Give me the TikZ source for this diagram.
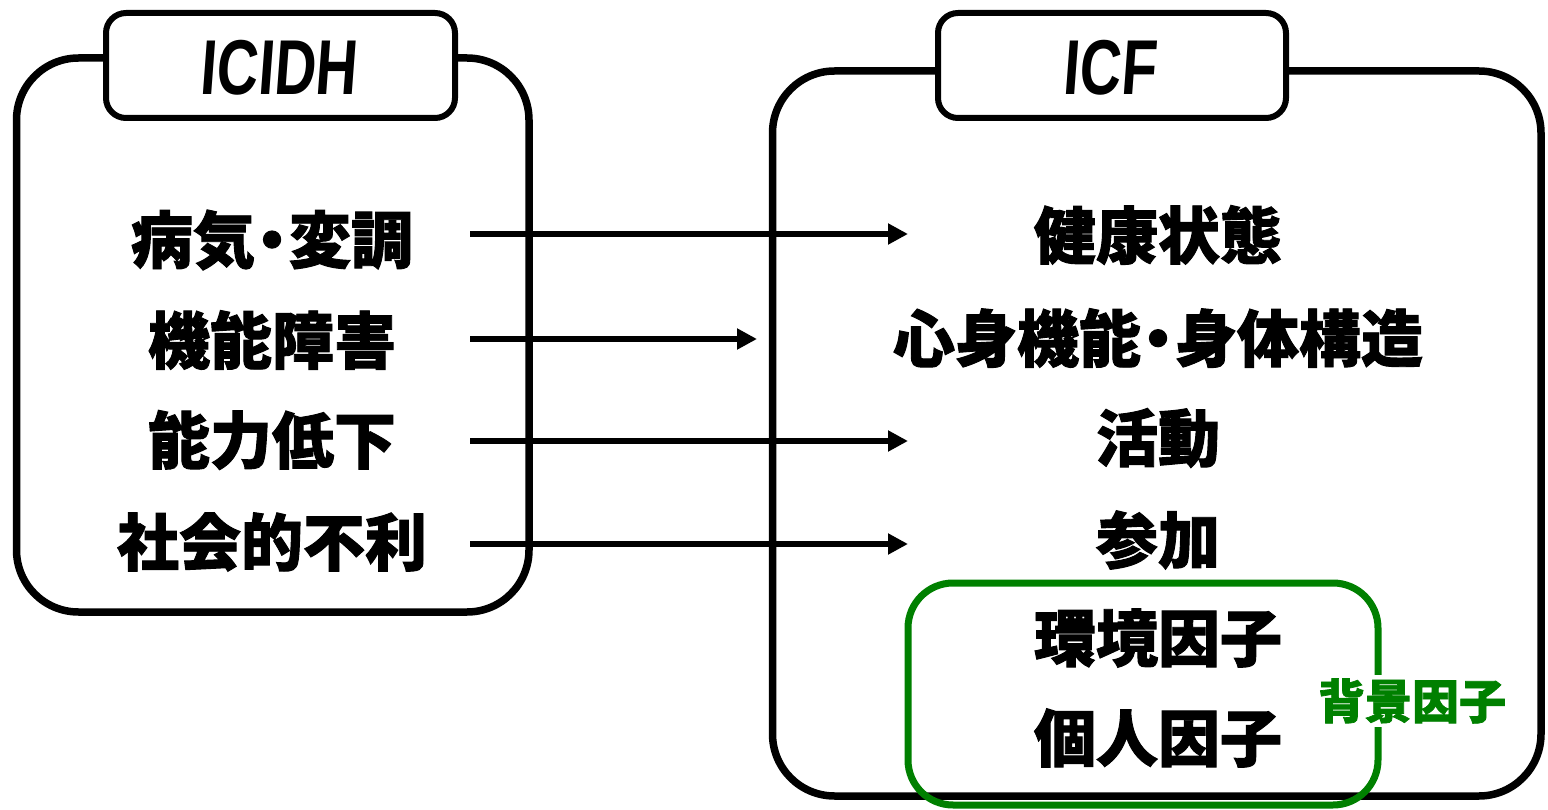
\documentclass[tikz,border=0pt]{standalone}
\usepackage{fontspec}
\usetikzlibrary{arrows.meta}
\newfontfamily\jp{Noto Sans CJK JP Black}[FakeBold=1.5]
\newfontfamily\lat{Liberation Sans}
\definecolor{grn}{RGB}{0,128,0}
\newcommand{\jdot}{\kern-14pt・\kern-14pt}
\tikzset{
  outerbox/.style={draw=black, line width=7.5pt, rounded corners=62pt},
  titlebox/.style={draw=black, fill=white, line width=6pt, rounded corners=20pt},
  titletext/.style={font=\lat\bfseries\fontsize{72}{72}\selectfont, xscale=0.8, yscale=1.08, xslant=0.1},
  item/.style={font=\jp\fontsize{62}{66}\selectfont, inner sep=0pt},
  arr/.style={line width=5.5pt, -{Triangle[length=20pt,width=20pt]}},
  greenbox/.style={draw=grn, line width=7pt, rounded corners=45pt},
  greenlabel/.style={font=\jp\fontsize{47}{50}\selectfont, text=grn, fill=white, inner sep=4pt}
}
\begin{document}
\begin{tikzpicture}[x=1pt,y=-1pt]
\useasboundingbox (0,0) rectangle (1548,810);
% left box
\draw[outerbox] (16.5,58) rectangle (529,612);
\draw[titlebox] (106,13) rectangle (455,118);
\node[titletext] (icidh) at (280,68) {ICIDH};
% right box
\draw[outerbox] (772.5,71) rectangle (1541,796);
\draw[titlebox] (938,13) rectangle (1286,118);
\node[titletext] (icf) at (1111,68) {ICF};
% green box
\draw[greenbox] (908,583) rectangle (1378,805);
\node[greenlabel] (bg) at (1412,701) {背景因子};
% left items
\node[item] (l1) at (272,240) {病気\jdot 変調};
\node[item] (l2) at (272,340) {機能障害};
\node[item] (l3) at (272,440) {能力低下};
\node[item] (l4) at (272,542) {社会的不利};
% right items
\node[item] (r1) at (1158,235) {健康状態};
\node[item] (r2) at (1158,338) {心身機能\jdot 身体構造};
\node[item] (r3) at (1158,438) {活動};
\node[item] (r4) at (1158,540) {参加};
\node[item] (r5) at (1158,638) {環境因子};
\node[item] (r6) at (1158,738) {個人因子};
% arrows
\coordinate (a1s) at (470,234); \coordinate (a1e) at (908,234);
\coordinate (a2s) at (470,339); \coordinate (a2e) at (757,339);
\coordinate (a3s) at (470,441); \coordinate (a3e) at (908,441);
\coordinate (a4s) at (470,544); \coordinate (a4e) at (908,544);
\draw[arr] (a1s) -- (a1e);
\draw[arr] (a2s) -- (a2e);
\draw[arr] (a3s) -- (a3e);
\draw[arr] (a4s) -- (a4e);
\end{tikzpicture}
\end{document}
